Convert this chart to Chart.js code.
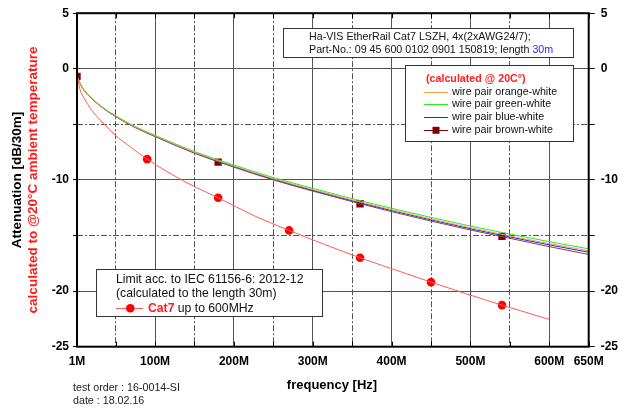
<!DOCTYPE html>
<html><head><meta charset="utf-8">
<script src="https://cdn.jsdelivr.net/npm/chart.js@4"></script>
<style>html,body{margin:0;padding:0;background:#fff}#wrap{width:622px;height:410px;position:relative}</style>
</head><body><div id="wrap"><canvas id="c" width="622" height="410"></canvas></div>
<script>
// ---- data (frequency in MHz, attenuation in dB/30m) ----
const freqMHz      = [1, 5, 10, 20, 35, 50, 75, 100, 150, 200, 250, 300, 350, 400, 450, 500, 550, 600, 650];
const orangeWhite  = [-0.67, -1.34, -1.93, -2.68, -3.57, -4.26, -5.25, -6.04, -7.52, -8.75, -9.88, -10.87, -11.80, -12.68, -13.51, -14.30, -15.04, -15.73, -16.37];
const greenWhite   = [-0.66, -1.33, -1.92, -2.66, -3.54, -4.22, -5.20, -5.98, -7.45, -8.66, -9.78, -10.76, -11.68, -12.55, -13.37, -14.15, -14.87, -15.55, -16.20];
const blueWhite    = [-0.67, -1.34, -1.94, -2.69, -3.58, -4.28, -5.27, -6.06, -7.55, -8.79, -9.93, -10.93, -11.87, -12.75, -13.59, -14.39, -15.13, -15.84, -16.50];
const brownWhite   = [-0.68, -1.35, -1.95, -2.70, -3.60, -4.30, -5.30, -6.10, -7.60, -8.85, -10.00, -11.00, -11.95, -12.85, -13.70, -14.50, -15.25, -16.00, -16.70];
const brownMarkFreq = [1, 180, 360, 540];
const brownMarkVal  = [-0.68, -8.40, -12.14, -15.08];

const cat7Freq  = [1, 5, 10, 20, 35, 50, 70, 90, 120, 150, 180, 225, 270, 315, 360, 405, 450, 495, 540, 570, 600];
const cat7Limit = [-0.68, -1.90, -2.65, -3.75, -4.95, -6.00, -7.10, -8.13, -9.45, -10.60, -11.60, -13.20, -14.54, -15.80, -17.00, -18.10, -19.19, -20.25, -21.26, -21.90, -22.55];
const cat7MarkFreq = [90, 180, 270, 360, 450, 540];
const cat7MarkVal  = [-8.13, -11.60, -14.54, -17.00, -19.19, -21.26];

const xTickValues  = [1, 50, 100, 150, 200, 250, 300, 350, 400, 450, 500, 550, 600, 650];
const xLabelValues = [1, 100, 200, 300, 400, 500, 600, 650];
const yTickValues  = [5, 0, -5, -10, -15, -20, -25];
const yLabelValues = [5, 0, -10, -20, -25];

const FONT = "'Liberation Sans', Arial, sans-serif";
const DASHDOT = [6, 2, 2, 2];

function pts(xs, ys) { return xs.map((x, i) => ({ x: x, y: ys[i] })); }

const overlay = {
  id: 'overlay',
  afterDraw(chart) {
    const ctx = chart.ctx;
    const a = chart.chartArea;
    const xs = chart.scales.x;
    ctx.save();
    // inward ticks top / bottom
    ctx.strokeStyle = '#000'; ctx.lineWidth = 1;
    xTickValues.forEach(v => {
      const px = Math.round(xs.getPixelForValue(v)) + 0.5;
      ctx.beginPath();
      ctx.moveTo(px, a.top); ctx.lineTo(px, a.top + 5);
      ctx.moveTo(px, a.bottom); ctx.lineTo(px, a.bottom - 5);
      ctx.stroke();
    });
    // frame
    ctx.lineWidth = 2; ctx.strokeStyle = '#000';
    ctx.strokeRect(a.left, a.top, a.right - a.left, a.bottom - a.top);

    // axis titles
    ctx.fillStyle = '#000';
    ctx.font = 'bold 13px ' + FONT;
    ctx.textAlign = 'center'; ctx.textBaseline = 'middle';
    ctx.fillText('frequency [Hz]', 332, 385);
    const cy = (a.top + a.bottom) / 2;
    ctx.save();
    ctx.translate(17, cy); ctx.rotate(-Math.PI / 2);
    ctx.font = 'bold 13.5px ' + FONT; ctx.fillStyle = '#000';
    ctx.fillText('Attenuation [dB/30m]', 0, 0);
    ctx.restore();
    ctx.save();
    ctx.translate(33, cy); ctx.rotate(-Math.PI / 2);
    ctx.font = 'bold 13.5px ' + FONT; ctx.fillStyle = '#ff1a1a';
    ctx.fillText('calculated to @20°C ambient temperature', 0, 0);
    ctx.restore();

    // bottom notes
    ctx.textAlign = 'left'; ctx.textBaseline = 'middle';
    ctx.font = '10.7px ' + FONT; ctx.fillStyle = '#222';
    ctx.fillText('test order : 16-0014-SI', 73, 388);
    ctx.fillText('date : 18.02.16', 73, 401);

    function box(x1, y1, x2, y2) {
      ctx.fillStyle = '#fff';
      ctx.fillRect(x1, y1, x2 - x1, y2 - y1);
      ctx.strokeStyle = '#333'; ctx.lineWidth = 1;
      ctx.strokeRect(Math.round(x1) + 0.5, Math.round(y1) + 0.5, Math.round(x2 - x1), Math.round(y2 - y1));
    }
    // info box
    box(283, 28, 573, 57);
    ctx.font = '10.7px ' + FONT; ctx.fillStyle = '#111';
    ctx.fillText('Ha-VIS EtherRail Cat7 LSZH, 4x(2xAWG24/7);', 309, 37.5);
    const l2 = 'Part-No.: 09 45 600 0102 0901 150819; length ';
    ctx.fillText(l2, 309, 50);
    ctx.fillStyle = '#2a2aff';
    ctx.fillText('30m', 309 + ctx.measureText(l2).width, 50);

    // series legend
    box(405, 65, 573, 141);
    ctx.font = 'bold 10.7px ' + FONT; ctx.fillStyle = '#ff2020';
    ctx.fillText('(calculated @ 20C°)', 426, 79);
    const leg = [
      ['wire pair orange-white', '#ff9a40', false, 91.7],
      ['wire pair green-white', '#22ee22', false, 104.3],
      ['wire pair blue-white', '#2020ff', false, 117.3],
      ['wire pair brown-white', '#800000', true, 130.3]
    ];
    leg.forEach(l => {
      ctx.strokeStyle = l[1]; ctx.lineWidth = 1;
      ctx.beginPath(); ctx.moveTo(424, Math.round(l[3]) + 0.5); ctx.lineTo(448, Math.round(l[3]) + 0.5); ctx.stroke();
      if (l[2]) { ctx.fillStyle = '#800000'; ctx.fillRect(432.5, l[3] - 3.5, 7, 7); }
      ctx.fillStyle = '#111'; ctx.font = '10.7px ' + FONT;
      ctx.fillText(l[0], 452, l[3]);
    });

    // limit legend
    box(96, 269, 322, 316);
    ctx.font = '12.2px ' + FONT; ctx.fillStyle = '#111';
    ctx.fillText('Limit acc. to IEC 61156-6: 2012-12', 116, 279.5);
    ctx.fillText('(calculated to the length 30m)', 116, 293.5);
    ctx.strokeStyle = '#ff5a5a'; ctx.lineWidth = 1;
    ctx.beginPath(); ctx.moveTo(116, 308.5); ctx.lineTo(143, 308.5); ctx.stroke();
    ctx.fillStyle = '#ff0000';
    ctx.beginPath(); ctx.arc(130.3, 308.3, 4.3, 0, Math.PI * 2); ctx.fill();
    ctx.font = 'bold 12.2px ' + FONT; ctx.fillStyle = '#ff1a1a';
    ctx.fillText('Cat7', 148, 308.5);
    const w = ctx.measureText('Cat7').width;
    ctx.font = '12.2px ' + FONT; ctx.fillStyle = '#111';
    ctx.fillText(' up to 600MHz', 148 + w, 308.5);
    ctx.restore();
  }
};

const tickFont = { family: FONT, weight: 'bold', size: 12 };

new Chart(document.getElementById('c'), {
  type: 'scatter',
  data: {
    datasets: [
      { label: 'Cat7 limit', data: pts(cat7Freq, cat7Limit), showLine: true, borderColor: '#ff5a5a', borderWidth: 1, pointRadius: 0, cubicInterpolationMode: 'monotone' },
      { label: 'Cat7 marks', data: pts(cat7MarkFreq, cat7MarkVal), showLine: false, pointRadius: 4.3, backgroundColor: '#ff0000', borderColor: '#ff0000', borderWidth: 0 },
      { label: 'wire pair orange-white', data: pts(freqMHz, orangeWhite), showLine: true, borderColor: '#ff9a40', borderWidth: 1, pointRadius: 0, cubicInterpolationMode: 'monotone' },
      { label: 'wire pair green-white', data: pts(freqMHz, greenWhite), showLine: true, borderColor: '#22ee22', borderWidth: 1, pointRadius: 0, cubicInterpolationMode: 'monotone' },
      { label: 'wire pair blue-white', data: pts(freqMHz, blueWhite), showLine: true, borderColor: '#2020ff', borderWidth: 1, pointRadius: 0, cubicInterpolationMode: 'monotone' },
      { label: 'wire pair brown-white', data: pts(freqMHz, brownWhite), showLine: true, borderColor: '#8a4040', borderWidth: 1, pointRadius: 0, cubicInterpolationMode: 'monotone' },
      { label: 'brown marks', data: pts(brownMarkFreq, brownMarkVal), showLine: false, pointStyle: 'rect', pointRadius: 5.2, backgroundColor: '#800000', borderColor: '#800000', borderWidth: 0 }
    ]
  },
  options: {
    responsive: false,
    animation: false,
    devicePixelRatio: 1,
    layout: { padding: { top: 13, left: 0, right: 0, bottom: 0 } },
    plugins: { legend: { display: false }, tooltip: { enabled: false } },
    scales: {
      x: {
        type: 'linear', position: 'bottom', min: 1, max: 650,
        afterBuildTicks: s => { s.ticks = xTickValues.map(v => ({ value: v })); },
        afterFit: s => { s.height = 63.3; },
        ticks: { autoSkip: false, maxRotation: 0, padding: 8, color: '#000', font: tickFont,
                 callback: v => xLabelValues.includes(v) ? v + 'M' : '' },
        grid: { color: '#555', lineWidth: 1, drawTicks: false },
        border: { display: false, dash: c => (c.tick && c.tick.value % 100 === 50) ? DASHDOT : [] }
      },
      y: {
        type: 'linear', position: 'left', min: -25, max: 5,
        afterBuildTicks: s => { s.ticks = yTickValues.map(v => ({ value: v })); },
        afterFit: s => { s.width = 77; },
        ticks: { autoSkip: false, padding: 4, color: '#000', font: tickFont,
                 callback: v => yLabelValues.includes(v) ? String(v) : '' },
        grid: { color: '#555', lineWidth: 1, drawTicks: true, tickLength: 4, tickColor: '#000' },
        border: { display: false, dash: c => (c.tick && (c.tick.value === -5 || c.tick.value === -15)) ? DASHDOT : [] }
      },
      y2: {
        type: 'linear', position: 'right', min: -25, max: 5,
        afterBuildTicks: s => { s.ticks = yTickValues.map(v => ({ value: v })); },
        afterFit: s => { s.width = 33.3; },
        ticks: { autoSkip: false, padding: 6, color: '#000', font: tickFont,
                 callback: v => yLabelValues.includes(v) ? String(v) : '' },
        grid: { drawOnChartArea: false, drawTicks: true, tickLength: 6, tickColor: '#000' },
        border: { display: false }
      }
    }
  },
  plugins: [overlay]
});
</script></body></html>
